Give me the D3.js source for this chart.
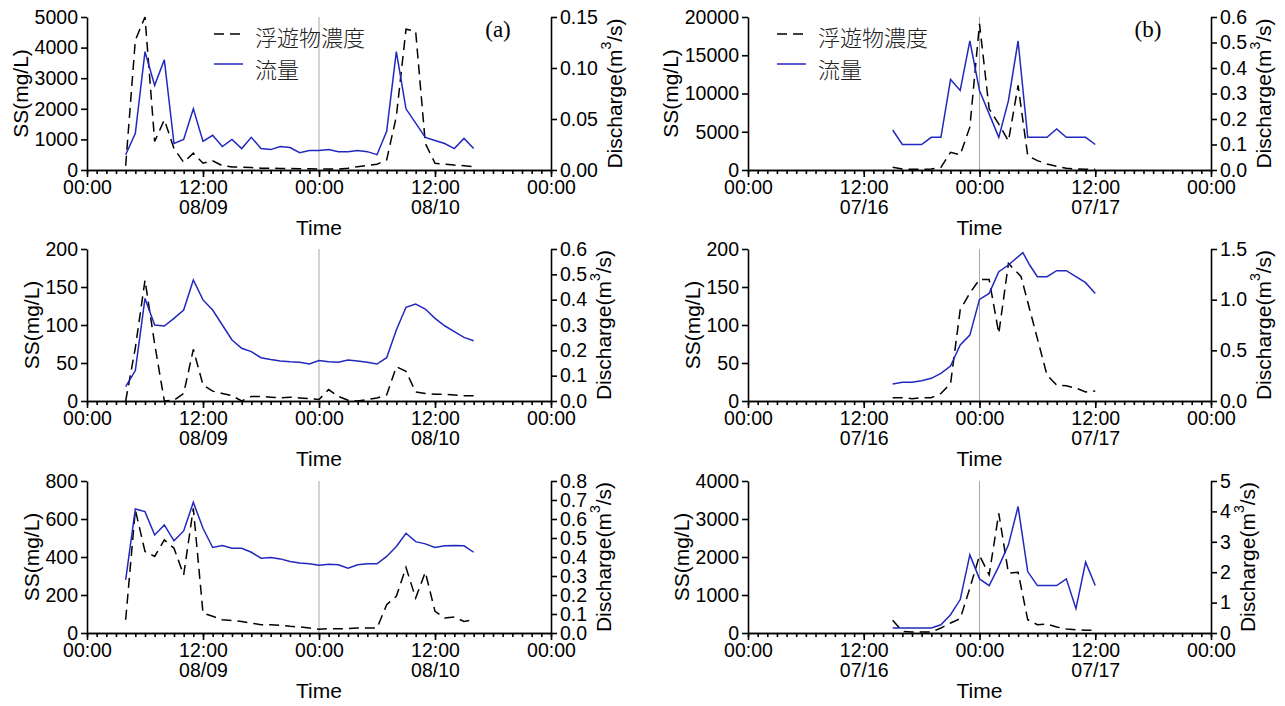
<!DOCTYPE html>
<html>
<head>
<meta charset="utf-8">
<script src="https://cdn.jsdelivr.net/npm/d3@7"></script>
<style>
  body { margin: 0; background: #fff; }
  svg { display: block; font-family: "Liberation Sans", Arial, sans-serif; }
  .axis path, .axis line { stroke: #000; stroke-width: 1.6; }
</style>
</head>
<body>
<script>
// ---- data: hours counted from 00:00 of the first day shown ----

// event (a): 08/09 - 08/10, hourly samples
var hoursA = [4, 5, 6, 7, 8, 9, 10, 11, 12, 13, 14, 15, 16, 17, 18, 19, 20, 21, 22, 23,
              24, 25, 26, 27, 28, 29, 30, 31, 32, 33, 34, 35, 36, 37, 38, 39, 40];

var ssA1 = [140, 4240, 5000, 930, 1640, 700, 250, 550, 220, 300, 140, 100, 90, 80, 60, 60, 50, 50, 40, 40,
            30, 30, 30, 60, 110, 150, 190, 330, 1750, 4600, 4530, 870, 220, 190, 160, 140, 110];
var qA1 = [0.015, 0.036, 0.116, 0.083, 0.108, 0.026, 0.030, 0.060, 0.028, 0.034, 0.023, 0.030, 0.021, 0.032,
           0.021, 0.020, 0.023, 0.022, 0.017, 0.019, 0.019, 0.020, 0.018, 0.018, 0.019, 0.018, 0.015, 0.038,
           0.116, 0.060, 0.046, 0.032, 0.029, 0.026, 0.021, 0.031, 0.021];

var ssA2 = [0, 70, 159, 75, 0, 1, 10, 68, 21, 13, 10, 7, 0, 6, 6, 5, 4, 5, 4, 3,
            2, 15, 6, 1, 0, 2, 4, 8, 45, 39, 12, 10, 9, 9, 8, 7, 7];
var qA2 = [0.057, 0.12, 0.405, 0.30, 0.296, 0.326, 0.359, 0.478, 0.399, 0.359, 0.30, 0.241, 0.208, 0.195,
           0.171, 0.164, 0.158, 0.155, 0.153, 0.146, 0.160, 0.155, 0.153, 0.162, 0.158, 0.153, 0.146, 0.171,
           0.28, 0.37, 0.383, 0.363, 0.326, 0.297, 0.274, 0.251, 0.238];

var ssA3 = [70, 648, 429, 403, 490, 446, 306, 656, 105, 88, 70, 65, 61, 52, 44, 44, 40, 35, 32, 26,
            20, 23, 23, 23, 26, 26, 26, 149, 193, 345, 184, 320, 114, 79, 84, 61, 70];
var qA3 = [0.28, 0.653, 0.639, 0.516, 0.569, 0.485, 0.537, 0.688, 0.551, 0.45, 0.46, 0.446, 0.446, 0.425,
           0.394, 0.397, 0.39, 0.376, 0.368, 0.364, 0.357, 0.362, 0.359, 0.341, 0.359, 0.364, 0.364, 0.403,
           0.455, 0.525, 0.481, 0.469, 0.45, 0.459, 0.46, 0.459, 0.425];

// event (b): 07/16 - 07/17
var hoursB = [15, 16, 17, 18, 19, 20, 21, 22, 23, 24, 25, 26, 27, 28, 29, 30, 31, 32, 33, 34, 35, 36];

var ssB1 = [350, 130, 90, 90, 130, 350, 2310, 2000, 5600, 19100, 8000, 6000, 3800, 11050,
            1880, 1220, 790, 480, 220, 130, 90, 90];
var qB1 = [0.157, 0.100, 0.100, 0.100, 0.128, 0.128, 0.355, 0.312, 0.506, 0.312, 0.22, 0.128, 0.272, 0.506,
           0.128, 0.128, 0.128, 0.161, 0.128, 0.128, 0.128, 0.100];

var hoursB2ss = [15, 16, 17, 18, 19, 20, 21, 22, 23, 24, 25, 26, 27, 28.3, 31, 32, 33, 34, 35, 36];
var ssB2 = [4.4, 4.4, 3, 4.4, 4.4, 10, 23, 120, 142, 160, 160, 89, 181, 164, 34, 21, 20, 17, 12, 13];
var hoursB2q = [15, 16, 17, 18, 19, 20, 21, 22, 23, 24, 25, 26, 27, 28.5, 29.2, 30, 31, 32, 33, 34, 35, 36];
var qB2 = [0.168, 0.184, 0.184, 0.20, 0.224, 0.273, 0.345, 0.553, 0.65, 1.003, 1.062, 1.276, 1.342, 1.464,
           1.342, 1.227, 1.227, 1.286, 1.286, 1.227, 1.168, 1.062];

var ssB3 = [333, 44, 26, 26, 26, 130, 263, 376, 1180, 2040, 1530, 3150, 1575, 1600,
            350, 219, 236, 158, 105, 88, 70, 70];
var qB3 = [0.164, 0.164, 0.164, 0.164, 0.164, 0.27, 0.6, 1.1, 2.57, 1.78, 1.56, 2.19, 2.9, 4.16,
           2.02, 1.56, 1.56, 1.56, 1.78, 0.8, 2.33, 1.56];

// axis ranges for each row: [a, b]
var ssMax  = [[5000, 20000], [200, 200], [800, 4000]];
var ssStep = [[1000, 5000], [50, 50], [200, 1000]];
var qMax   = [[0.15, 0.6], [0.6, 1.5], [0.8, 5]];
var qStep  = [[0.05, 0.1], [0.1, 0.5], [0.1, 1]];
var qFmt   = [[".2f", ".1f"], [".1f", ".1f"], [".1f", "d"]];

// first day of each event (year not shown in the figure)
var dayA = new Date(Date.UTC(2000, 7, 9));
var dayB = new Date(Date.UTC(2000, 6, 16));

var legendLabels = ["浮遊物濃度", "流量"];
var panelTags = ["(a)", "(b)"];

// ---- layout ----
var width = 1285, height = 706;
var cols = [{ x0: 87, x1: 551 }, { x0: 748, x1: 1211 }];
var rows = [{ top: 17, bottom: 170 }, { top: 249, bottom: 401 }, { top: 481, bottom: 633 }];
var blue = "#2228bd";
var H = 3600 * 1000;

var svg = d3.select("body").append("svg")
    .attr("width", width)
    .attr("height", height);

function toSeries(start, hours, values) {
    return hours.map(function(h, i) { return { t: new Date(start.getTime() + h * H), v: values[i] }; });
}

var panels = [
    { c: 0, r: 0, start: dayA, ss: toSeries(dayA, hoursA, ssA1), q: toSeries(dayA, hoursA, qA1) },
    { c: 0, r: 1, start: dayA, ss: toSeries(dayA, hoursA, ssA2), q: toSeries(dayA, hoursA, qA2) },
    { c: 0, r: 2, start: dayA, ss: toSeries(dayA, hoursA, ssA3), q: toSeries(dayA, hoursA, qA3) },
    { c: 1, r: 0, start: dayB, ss: toSeries(dayB, hoursB, ssB1), q: toSeries(dayB, hoursB, qB1) },
    { c: 1, r: 1, start: dayB, ss: toSeries(dayB, hoursB2ss, ssB2), q: toSeries(dayB, hoursB2q, qB2) },
    { c: 1, r: 2, start: dayB, ss: toSeries(dayB, hoursB, ssB3), q: toSeries(dayB, hoursB, qB3) }
];

panels.forEach(drawPanel);

function drawPanel(p) {
    var col = cols[p.c], row = rows[p.r];
    var g = svg.append("g");

    var x = d3.scaleUtc()
        .domain([p.start, new Date(p.start.getTime() + 48 * H)])
        .range([col.x0, col.x1]);
    var ySS = d3.scaleLinear().domain([0, ssMax[p.r][p.c]]).range([row.bottom, row.top]);
    var yQ = d3.scaleLinear().domain([0, qMax[p.r][p.c]]).range([row.bottom, row.top]);

    // midnight separator
    var mid = x(new Date(p.start.getTime() + 24 * H));
    g.append("line")
        .attr("x1", mid).attr("x2", mid)
        .attr("y1", row.top).attr("y2", row.bottom)
        .attr("stroke", "#a8a8a8")
        .attr("stroke-width", 1);

    // series
    g.append("path")
        .datum(p.ss)
        .attr("fill", "none")
        .attr("stroke", "#000")
        .attr("stroke-width", 1.5)
        .attr("stroke-dasharray", "10,6")
        .attr("d", d3.line().x(function(d) { return x(d.t); }).y(function(d) { return ySS(d.v); }));

    g.append("path")
        .datum(p.q)
        .attr("fill", "none")
        .attr("stroke", blue)
        .attr("stroke-width", 1.5)
        .attr("d", d3.line().x(function(d) { return x(d.t); }).y(function(d) { return yQ(d.v); }));

    // x axis: hourly minor ticks + 12h labelled ticks
    g.append("g")
        .attr("class", "axis")
        .attr("transform", "translate(0," + row.bottom + ")")
        .call(d3.axisBottom(x).ticks(d3.utcHour.every(1)).tickSize(4).tickSizeOuter(0).tickFormat(""));

    var gx = g.append("g")
        .attr("class", "axis")
        .attr("transform", "translate(0," + row.bottom + ")")
        .call(d3.axisBottom(x).ticks(d3.utcHour.every(12)).tickSize(7).tickSizeOuter(0).tickPadding(3)
            .tickFormat(d3.utcFormat("%H:%M")));
    styleTicks(gx);
    gx.selectAll(".tick text").each(function(d) {
        if (d.getUTCHours() == 12) {
            d3.select(this).append("tspan")
                .attr("x", 0)
                .attr("dy", "1.03em")
                .text(d3.utcFormat("%m/%d")(d));
        }
    });

    // left axis (SS)
    var gl = g.append("g")
        .attr("class", "axis")
        .attr("transform", "translate(" + col.x0 + ",0)")
        .call(d3.axisLeft(ySS)
            .tickValues(d3.range(0, ssMax[p.r][p.c] + ssStep[p.r][p.c] / 2, ssStep[p.r][p.c]))
            .tickSize(6).tickSizeOuter(0).tickPadding(3).tickFormat(d3.format("d")));
    styleTicks(gl);

    // right axis (discharge)
    var gr = g.append("g")
        .attr("class", "axis")
        .attr("transform", "translate(" + col.x1 + ",0)")
        .call(d3.axisRight(yQ)
            .tickValues(d3.range(0, qMax[p.r][p.c] + qStep[p.r][p.c] / 2, qStep[p.r][p.c]))
            .tickSize(6).tickSizeOuter(0).tickPadding(3).tickFormat(d3.format(qFmt[p.r][p.c])));
    styleTicks(gr);

    var cy = (row.top + row.bottom) / 2;

    // axis titles, placed beside the tick labels
    var bl = gl.node().getBBox();
    g.append("text")
        .attr("transform", "translate(" + (col.x0 + bl.x - 14) + "," + cy + ") rotate(-90)")
        .attr("text-anchor", "middle")
        .attr("dominant-baseline", "central")
        .attr("font-size", 21)
        .text("SS(mg/L)");

    var br = gr.node().getBBox();
    var qt = g.append("text")
        .attr("transform", "translate(" + (col.x1 + br.x + br.width + 16) + "," + cy + ") rotate(-90)")
        .attr("text-anchor", "middle")
        .attr("dominant-baseline", "central")
        .attr("font-size", 21);
    qt.append("tspan").text("Discharge(m");
    qt.append("tspan").attr("font-size", 14).attr("dy", -8).text("3");
    qt.append("tspan").attr("dy", 8).text("/s)");

    g.append("text")
        .attr("x", (col.x0 + col.x1) / 2)
        .attr("y", row.bottom + 65)
        .attr("text-anchor", "middle")
        .attr("font-size", 21)
        .text("Time");

    // legend and panel tag only on the top row
    if (p.r == 0) {
        var lx = p.c == 0 ? 214 : 777;
        var ly = [36, 68];
        var lg = g.append("g");
        lg.append("line")
            .attr("x1", lx).attr("x2", lx + 29)
            .attr("y1", ly[0] - 2).attr("y2", ly[0] - 2)
            .attr("stroke", "#000").attr("stroke-width", 1.5)
            .attr("stroke-dasharray", "10,6");
        lg.append("line")
            .attr("x1", lx).attr("x2", lx + 29)
            .attr("y1", ly[1] - 4).attr("y2", ly[1] - 4)
            .attr("stroke", blue).attr("stroke-width", 1.5);
        lg.selectAll("text")
            .data(legendLabels)
            .enter().append("text")
            .attr("x", lx + 41)
            .attr("y", function(d, i) { return ly[i]; })
            .attr("dominant-baseline", "central")
            .attr("font-family", "'Noto Sans CJK JP', 'Noto Sans CJK SC', sans-serif")
            .attr("font-weight", 300)
            .attr("font-size", 22)
            .attr("fill", "#222")
            .text(function(d) { return d; });

        g.append("text")
            .attr("x", p.c == 0 ? 498 : 1148)
            .attr("y", 29)
            .attr("text-anchor", "middle")
            .attr("dominant-baseline", "central")
            .attr("font-family", "'Liberation Serif', 'Times New Roman', serif")
            .attr("font-size", 23)
            .text(panelTags[p.c]);
    }
}

function styleTicks(sel) {
    sel.attr("font-size", 19.5)
        .attr("font-family", "'Liberation Sans', Arial, sans-serif");
    sel.selectAll(".tick text").attr("fill", "#000");
}
</script>
</body>
</html>
